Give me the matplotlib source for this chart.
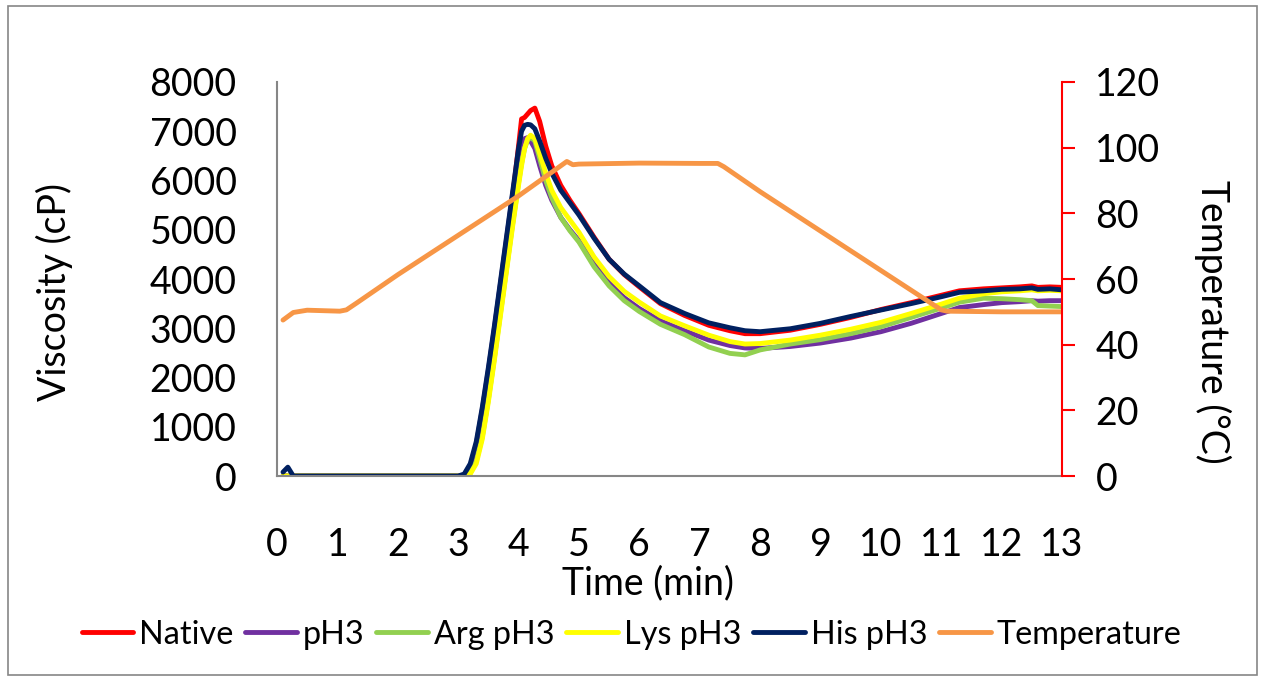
import matplotlib
matplotlib.use("Agg")
from matplotlib import pyplot as plt
from matplotlib.patches import Rectangle

plt.rcParams['font.family'] = ['Lato', 'DejaVu Sans']

# shared time grid for the viscosity curves (min)
time = [0.1, 0.18, 0.27, 0.5, 1, 1.5, 2, 2.5, 2.9, 3.0, 3.1, 3.2, 3.3, 3.4, 3.5,
        3.6, 3.7, 3.8, 3.9, 4.0, 4.05, 4.1, 4.15, 4.2, 4.27, 4.35, 4.45, 4.55,
        4.7, 4.85, 5.0, 5.25, 5.5, 5.75, 6.0, 6.35, 6.75, 7.15, 7.5, 7.75, 8.0,
        8.5, 9.0, 9.5, 10.0, 10.5, 11.0, 11.3, 11.7, 12.0, 12.3, 12.5, 12.6,
        12.8, 13.0]

native = [0, 0, 0, 0, 0, 0, 0, 0, 0, 0, 20, 180, 600, 1300, 2100,
          2950, 3850, 4750, 5650, 6700, 7250, 7280, 7350, 7420, 7470, 7200, 6700, 6300,
          5900, 5600, 5330, 4850, 4400, 4090, 3840, 3500, 3260, 3060, 2950, 2890, 2890,
          2960, 3080, 3220, 3380, 3520, 3670, 3760, 3800, 3820, 3840, 3860, 3830,
          3840, 3830]

ph3 = [0, 0, 0, 0, 0, 0, 0, 0, 0, 0, 20, 200, 650, 1350, 2150,
       3000, 3900, 4800, 5700, 6500, 6750, 6850, 6870, 6800, 6650, 6300, 5900, 5600,
       5250, 5000, 4780, 4300, 3920, 3620, 3400, 3150, 2950, 2760, 2650, 2600, 2590,
       2630, 2700, 2800, 2930, 3100, 3300, 3420, 3480, 3520, 3540, 3560, 3550,
       3560, 3560]

arg_ph3 = [0, 0, 0, 0, 0, 0, 0, 0, 0, 0, 0, 60, 300, 800, 1550,
           2400, 3300, 4200, 5100, 5950, 6350, 6650, 6820, 6880, 6800, 6450, 6000, 5650,
           5250, 4980, 4750, 4250, 3860, 3560, 3340, 3080, 2870, 2620, 2490, 2460, 2560,
           2680, 2770, 2890, 3030, 3220, 3410, 3530, 3610, 3600, 3580, 3560, 3460,
           3450, 3440]

lys_ph3 = [0, 0, 0, 0, 0, 0, 0, 0, 0, 0, 0, 40, 250, 750, 1500,
           2350, 3250, 4150, 5050, 5900, 6300, 6650, 6850, 6920, 6850, 6550, 6150, 5800,
           5450, 5200, 4950, 4450, 4050, 3750, 3530, 3250, 3050, 2860, 2730, 2680, 2690,
           2760, 2860, 2980, 3120, 3300, 3490, 3610, 3700, 3740, 3760, 3780, 3760,
           3770, 3760]

his_ph3 = [80, 180, 0, 0, 0, 0, 0, 0, 0, 0, 40, 250, 700, 1400, 2200,
           3050, 3950, 4850, 5750, 6650, 7000, 7120, 7140, 7130, 7050, 6800, 6450, 6150,
           5800, 5550, 5300, 4830, 4400, 4100, 3860, 3520, 3300, 3110, 3010, 2950, 2930,
           2990, 3100, 3240, 3370, 3500, 3640, 3730, 3760, 3790, 3800, 3820, 3790,
           3800, 3780]

# temperature profile (°C)
temp_time = [0.1, 0.27, 0.5, 1.04, 1.15, 1.32, 2, 3, 4, 4.8, 4.9, 5.0, 6.0, 7.0,
             7.3, 7.4, 8, 9, 10, 11.0, 11.1, 12, 13]
temperature = [47.5, 49.8, 50.5, 50.2, 50.6, 52.7, 61.3, 73.3, 85.3, 95.8, 94.8,
               95.0, 95.3, 95.2, 95.2, 94.2, 86.6, 74.6, 62.6, 50.6, 50.2, 50.0, 50.0]

series = [("Native", native, "#FF0000"),
          ("pH3", ph3, "#7030A0"),
          ("Arg pH3", arg_ph3, "#92D050"),
          ("Lys pH3", lys_ph3, "#FFFF00"),
          ("His pH3", his_ph3, "#002060")]

fig = plt.figure(figsize=(12.63, 6.81), dpi=100)
ax = fig.add_axes([0.2193, 0.3010, 0.6216, 0.5786])
ax2 = ax.twinx()

lw = 3.5
handles = []
for name, vals, col in series:
    h, = ax.plot(time, vals, color=col, lw=lw, label=name, solid_capstyle="round")
    handles.append(h)
h, = ax2.plot(temp_time, temperature, color="#F79646", lw=lw, label="Temperature",
              solid_capstyle="round")
handles.append(h)

ax.set_xlim(0, 13)
ax.set_ylim(0, 8000)
ax2.set_ylim(0, 120)
ax.set_xticks(range(0, 14))
ax.set_yticks(range(0, 8001, 1000))
ax2.set_yticks(range(0, 121, 20))

grey = "#868686"
for s in ["top", "right"]:
    ax.spines[s].set_visible(False)
ax.spines["left"].set_color(grey)
ax.spines["bottom"].set_color(grey)
ax.spines["left"].set_linewidth(1.5)
ax.spines["bottom"].set_linewidth(1.5)
for s in ["top", "left", "bottom"]:
    ax2.spines[s].set_visible(False)
ax2.spines["right"].set_color("#FF0000")
ax2.spines["right"].set_linewidth(1.5)

fs = 27
ax.tick_params(axis="both", length=0, labelsize=fs)
ax.tick_params(axis="x", pad=37)
ax.tick_params(axis="y", pad=29)
ax2.tick_params(axis="y", length=9, width=1.5, color="#FF0000", labelsize=fs, pad=15)

ax.set_xlabel("Time (min)", fontsize=fs, va="center", ha="center")
ax.xaxis.set_label_coords(0.4726, -0.272)
ax.set_ylabel("Viscosity (cP)", fontsize=fs, va="center", ha="center")
ax.yaxis.set_label_coords(-0.284, 0.467)
ax2.set_ylabel("Temperature (°C)", fontsize=fs, rotation=270, va="center", ha="center")
ax2.yaxis.set_label_coords(1.192, 0.391)

fig.legend(handles=handles, loc="center", bbox_to_anchor=(0.5, 0.068), ncol=6,
           frameon=False, fontsize=23.3, handlelength=1.6, handletextpad=0.18,
           columnspacing=0.36)

fig.patches.append(Rectangle((8 / 1263, 6 / 681), 1249 / 1263, 669 / 681,
                             transform=fig.transFigure, fill=False,
                             edgecolor=grey, lw=1.2))

fig.savefig("out.png", dpi=100)
